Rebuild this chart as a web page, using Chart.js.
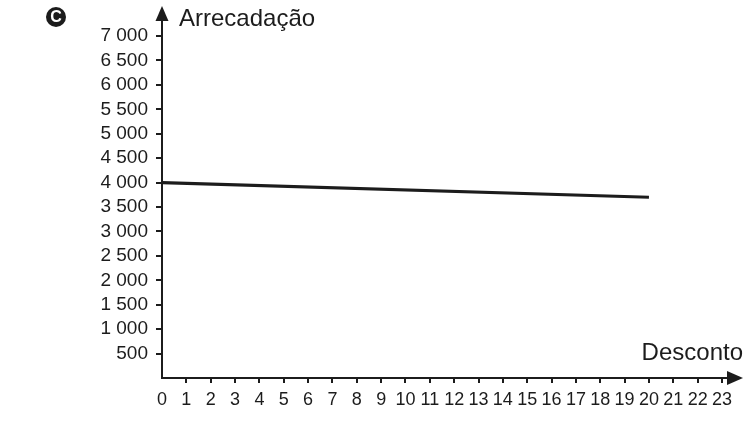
<!DOCTYPE html>
<html>
<head>
<meta charset="utf-8">
<script src="https://cdn.jsdelivr.net/npm/chart.js@4/dist/chart.umd.min.js"></script>
<style>
  html, body { margin: 0; padding: 0; background: #fff; }
  #wrap { width: 756px; height: 428px; }
</style>
</head>
<body>
<div id="wrap"><canvas id="chart" width="756" height="428"></canvas></div>
<script>
// data
const descontos = [0, 20];
const arrecadacao = [4000, 3700];
const xTicks = [0, 1, 2, 3, 4, 5, 6, 7, 8, 9, 10, 11, 12, 13, 14, 15, 16, 17, 18, 19, 20, 21, 22, 23];
const yTicks = [0, 500, 1000, 1500, 2000, 2500, 3000, 3500, 4000, 4500, 5000, 5500, 6000, 6500, 7000];
const xTitle = "Desconto";
const yTitle = "Arrecadação";
const panelLetter = "C";

const ink = "#1c1c1c";
const font = "'Liberation Sans', Arial, Helvetica, sans-serif";

function fmt(v) {
  return String(v).replace(/\B(?=(\d{3})+(?!\d))/g, " ");
}

// axis arrows, titles and the circled letter
const axesDecor = {
  id: "axesDecor",
  afterDraw(chart) {
    const ctx = chart.ctx;
    const a = chart.chartArea;
    const x0 = chart.scales.x.getPixelForValue(0);
    const y0 = chart.scales.y.getPixelForValue(0);
    ctx.save();
    ctx.strokeStyle = ink;
    ctx.fillStyle = ink;
    ctx.lineWidth = 2;
    // extend axes to arrow heads
    ctx.beginPath();
    ctx.moveTo(x0, a.top);
    ctx.lineTo(x0, 19);
    ctx.moveTo(a.right, y0);
    ctx.lineTo(729, y0);
    ctx.stroke();
    // y arrow
    ctx.beginPath();
    ctx.moveTo(x0, 6);
    ctx.lineTo(x0 - 6.5, 21);
    ctx.lineTo(x0 + 6.5, 21);
    ctx.closePath();
    ctx.fill();
    // x arrow
    ctx.beginPath();
    ctx.moveTo(743, y0);
    ctx.lineTo(727, y0 - 7);
    ctx.lineTo(727, y0 + 7);
    ctx.closePath();
    ctx.fill();
    // titles
    ctx.font = "24px " + font;
    ctx.textBaseline = "alphabetic";
    ctx.textAlign = "left";
    ctx.fillText(yTitle, 179, 26);
    ctx.textAlign = "right";
    ctx.fillText(xTitle, 743, 360);
    // circled letter
    ctx.beginPath();
    ctx.arc(56, 17, 10, 0, Math.PI * 2);
    ctx.fill();
    ctx.fillStyle = "#fff";
    ctx.font = "bold 16px " + font;
    ctx.textAlign = "center";
    ctx.textBaseline = "middle";
    ctx.fillText(panelLetter, 56, 17.5);
    ctx.restore();
  }
};

new Chart(document.getElementById("chart"), {
  type: "line",
  data: {
    datasets: [
      {
        data: descontos.map((d, i) => ({ x: d, y: arrecadacao[i] })),
        borderColor: ink,
        borderWidth: 3.2,
        pointRadius: 0,
        tension: 0,
        clip: false
      }
    ]
  },
  options: {
    responsive: false,
    animation: false,
    layout: { padding: { left: 0, right: 34, top: 36, bottom: 0 } },
    plugins: {
      legend: { display: false },
      tooltip: { enabled: false }
    },
    scales: {
      x: {
        type: "linear",
        min: 0,
        max: 23,
        afterBuildTicks: (s) => { s.ticks = xTicks.map((v) => ({ value: v })); },
        afterFit: (s) => { s.height = 50; },
        border: { display: true, color: ink, width: 2 },
        grid: {
          drawOnChartArea: false,
          drawTicks: true,
          tickLength: 5,
          lineWidth: 2,
          color: (c) => (c.tick && c.tick.value === 0 ? "rgba(0,0,0,0)" : ink)
        },
        ticks: {
          autoSkip: false,
          maxRotation: 0,
          padding: 6,
          color: ink,
          font: { family: font, size: 18 }
        }
      },
      y: {
        min: 0,
        max: 7000,
        afterBuildTicks: (s) => { s.ticks = yTicks.map((v) => ({ value: v })); },
        afterFit: (s) => { s.width = 162; },
        border: { display: true, color: ink, width: 2 },
        grid: {
          drawOnChartArea: false,
          drawTicks: true,
          tickLength: 6,
          lineWidth: 2,
          color: (c) => (c.tick && c.tick.value === 0 ? "rgba(0,0,0,0)" : ink)
        },
        ticks: {
          autoSkip: false,
          padding: 8,
          color: ink,
          font: { family: font, size: 19 },
          callback: (v) => (v === 0 ? "" : fmt(v))
        }
      }
    }
  },
  plugins: [axesDecor]
});
</script>
</body>
</html>
